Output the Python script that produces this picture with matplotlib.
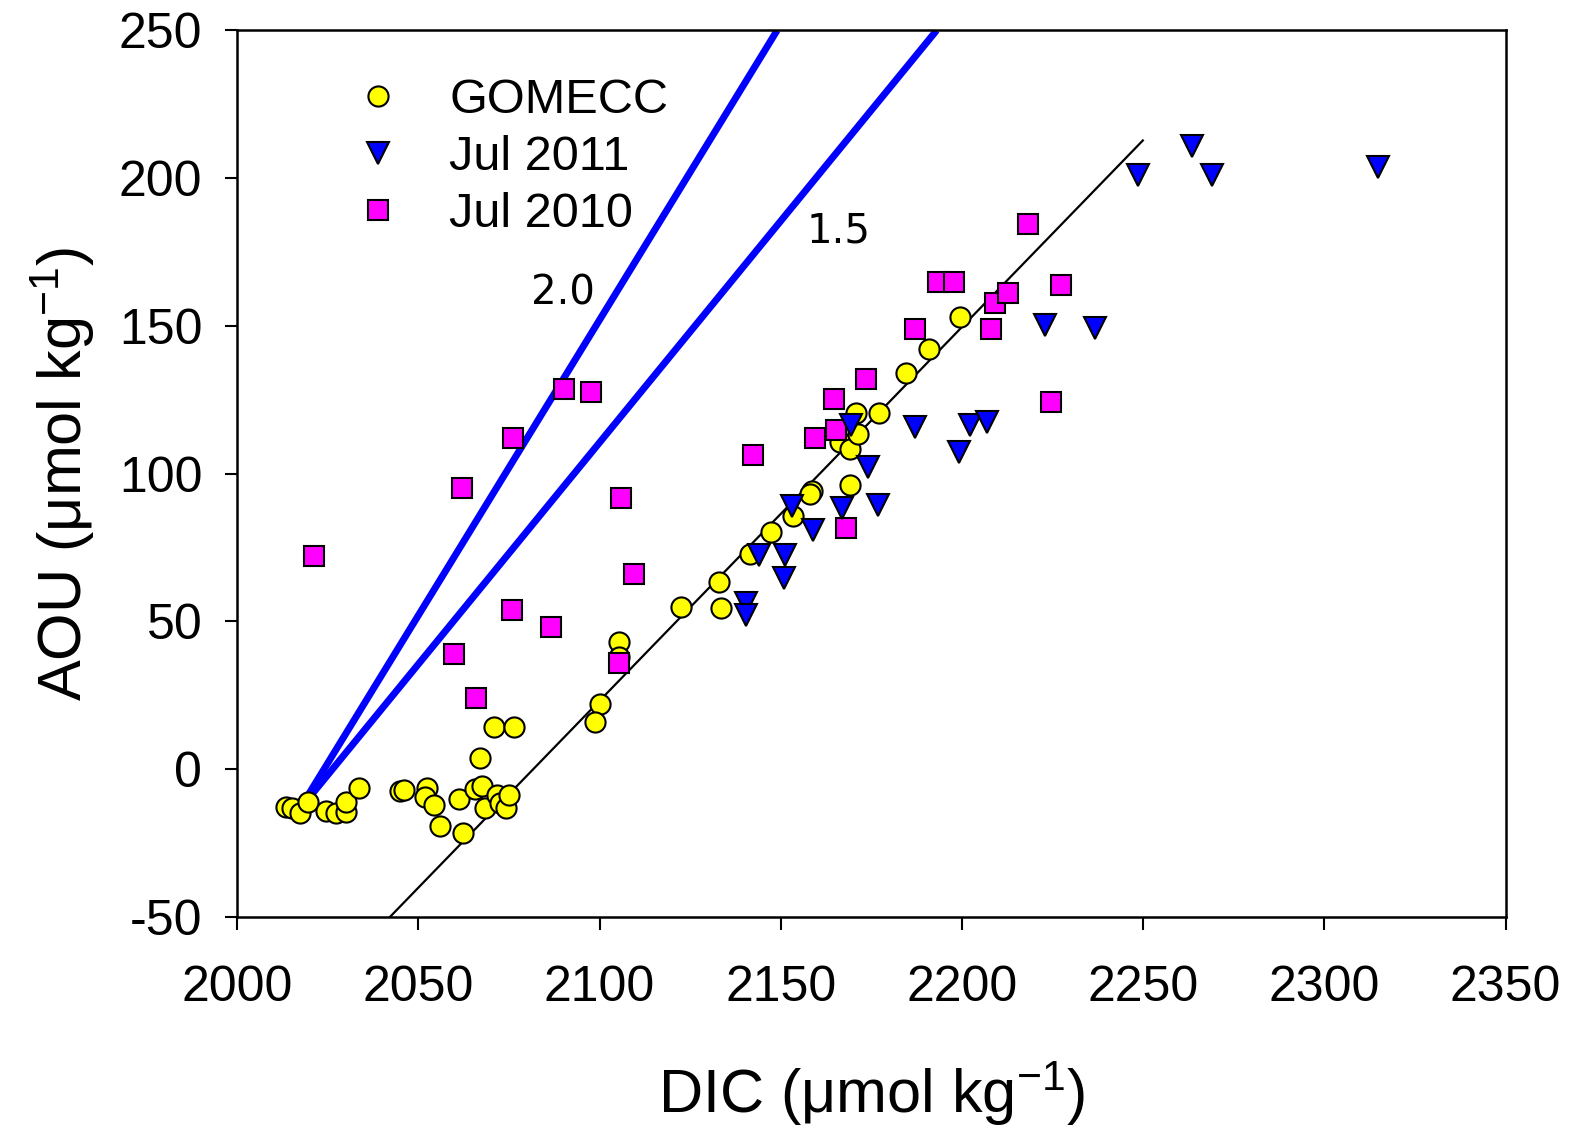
import matplotlib
matplotlib.use("Agg")
import matplotlib.pyplot as plt
import numpy as np

plt.rcParams['font.family'] = ['Liberation Sans', 'DejaVu Sans']
plt.rcParams['mathtext.fontset'] = 'custom'
plt.rcParams['mathtext.rm'] = 'Liberation Sans'
plt.rcParams['mathtext.default'] = 'regular'
plt.rcParams['axes.unicode_minus'] = False

# GOMECC (yellow circles)
gom_dic = [2013.5, 2015.2, 2017.5, 2019.5, 2024.4, 2027.3, 2030.1, 2030.1, 2033.7,
           2045.0, 2046.0, 2052.4, 2051.9, 2054.2, 2055.9, 2061.3, 2062.2, 2065.6,
           2067.6, 2068.5, 2071.7, 2072.6, 2074.3, 2074.9, 2067.1, 2070.8, 2076.3,
           2100.0, 2098.7, 2105.4, 2105.4, 2122.5, 2133.4, 2132.9, 2141.4, 2147.2,
           2153.4, 2158.7, 2158.0, 2166.3, 2169.1, 2169.1, 2171.4, 2170.7, 2177.1,
           2184.5, 2191.0, 2199.4]
gom_aou = [-12.7, -13.2, -14.7, -11.0, -14.1, -14.9, -14.6, -11.0, -6.5,
           -7.4, -7.0, -6.5, -9.3, -12.1, -19.1, -10.2, -21.5, -6.7,
           -5.7, -13.2, -8.7, -11.5, -13.2, -8.7, 3.9, 14.4, 14.4,
           22.0, 16.1, 42.9, 38.0, 55.0, 54.5, 63.3, 72.8, 80.1,
           85.7, 94.1, 93.0, 110.8, 108.3, 96.2, 113.4, 120.4, 120.4,
           134.1, 142.1, 153.0]

# Jul 2011 (blue triangles)
j11_dic = [2140.3, 2140.3, 2144.1, 2151.3, 2150.8, 2153.0, 2159.0, 2167.0, 2169.5,
           2174.1, 2176.9, 2187.0, 2199.1, 2202.1, 2206.8, 2223.0, 2236.7, 2248.6,
           2263.5, 2269.0, 2314.8]
j11_aou = [56.1, 52.1, 72.4, 72.4, 64.6, 89.0, 80.9, 88.2, 116.4,
           102.1, 89.4, 115.8, 107.3, 116.4, 117.5, 150.3, 149.4, 201.0,
           210.8, 201.0, 203.6]

# Jul 2010 (magenta squares)
j10_dic = [2021.2, 2059.8, 2062.0, 2065.8, 2075.9, 2076.2, 2086.6, 2090.3, 2097.6,
           2105.4, 2105.9, 2109.5, 2142.4, 2159.5, 2164.8, 2165.2, 2168.0, 2173.5,
           2187.1, 2193.4, 2197.8, 2208.0, 2209.1, 2212.7, 2218.1, 2224.6, 2227.4]
j10_aou = [72.1, 39.0, 95.0, 24.0, 53.8, 112.2, 48.2, 128.8, 127.5,
           35.8, 91.8, 66.0, 106.3, 111.9, 125.2, 114.7, 81.5, 132.0,
           149.1, 164.7, 164.9, 148.9, 157.8, 161.0, 184.4, 124.3, 164.0]

# reference lines (slopes 2.0 and 1.5 from the surface end member) and fit
origin = (2017.0, -14.0)
slopes = [2.0, 1.5]
slope_labels = ['2.0', '1.5']
label_pos = [(2090, 161), (2166, 182)]
fit_x = [2042.2, 2249.9]
fit_slope = 1.265

fig = plt.figure(figsize=(15.7, 11.25), dpi=100)
ax = fig.add_axes([0.151, 0.185, 0.808, 0.788])

for s in slopes:
    x_end = origin[0] + (250 - origin[1]) / s
    ax.plot([origin[0], x_end], [origin[1], 250], color='#0000ff', lw=5, zorder=2,
            solid_capstyle='butt')

fx = np.array(fit_x)
ax.plot(fx, -50 + fit_slope * (fx - fit_x[0]), color='black', lw=1.6, zorder=2)

ax.plot(gom_dic, gom_aou, 'o', ms=14.5, mfc='#ffff00', mec='black', mew=1.5,
        label='GOMECC', zorder=3)
ax.plot(j11_dic, j11_aou, 'v', ms=16.5, mfc='#0000ff', mec='black', mew=1.5,
        label='Jul 2011', zorder=4)
ax.plot(j10_dic, j10_aou, 's', ms=14, mfc='#ff00ff', mec='black', mew=1.5,
        label='Jul 2010', zorder=3)

for txt, (tx, ty) in zip(slope_labels, label_pos):
    ax.text(tx, ty, txt, fontsize=29, family='DejaVu Sans', ha='center', va='center')

ax.set_xlim(2000, 2350)
ax.set_ylim(-50, 250)
ax.set_xticks(np.arange(2000, 2351, 50))
ax.set_yticks(np.arange(-50, 251, 50))
ax.tick_params(direction='out', length=9, width=1.5, labelsize=36)
ax.tick_params(axis='x', pad=26)
ax.tick_params(axis='y', pad=16)
for sp in ax.spines.values():
    sp.set_linewidth(1.8)

ax.set_xlabel('DIC (μmol kg$^{-1}$)', fontsize=44, labelpad=34)
ax.set_ylabel('AOU (μmol kg$^{-1}$)', fontsize=44, labelpad=16)

ax.legend(loc='upper left', bbox_to_anchor=(0.067, 0.968), frameon=False, fontsize=35,
          handlelength=1.5, handletextpad=0.72, labelspacing=0.25, borderaxespad=0)

fig.savefig('out.png', dpi=100)
